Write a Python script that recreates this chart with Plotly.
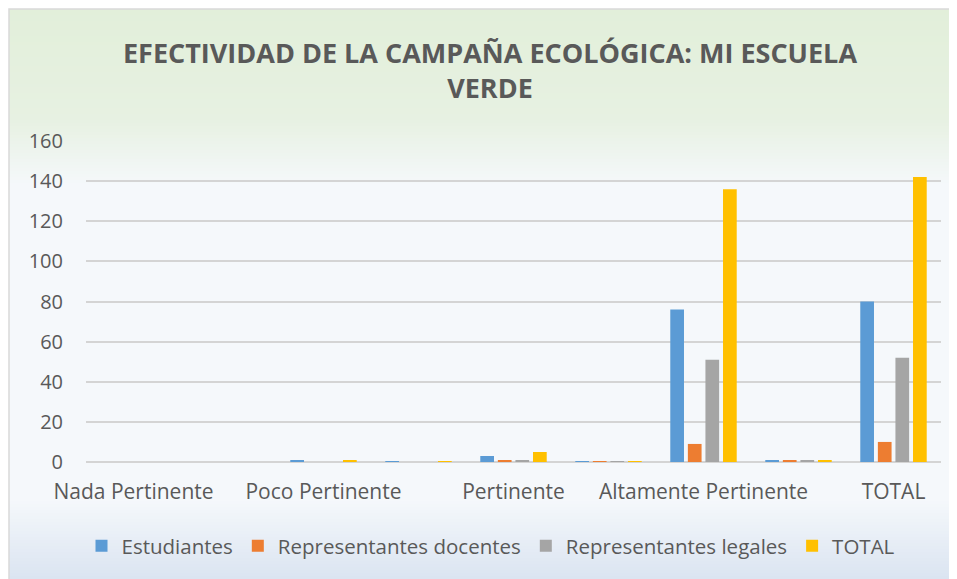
import plotly.graph_objects as go

# ---------------- data ----------------
category_labels = ["Nada Pertinente", "", "Poco Pertinente", "", "Pertinente", "",
                   "Altamente Pertinente", "", "TOTAL"]
estudiantes = [0, 0, 1, 0.0125, 3, 0.0375, 76, 0.95, 80]
docentes = [0, 0, 0, 0, 1, 0.1, 9, 0.9, 10]
legales = [0, 0, 0, 0, 1, 0.019, 51, 0.98, 52]
total = [0, 0, 1, 0.007, 5, 0.035, 136, 0.96, 142]
series_names = ["Estudiantes", "Representantes docentes", "Representantes legales", "TOTAL"]
y_ticks = [0, 20, 40, 60, 80, 100, 120, 140, 160]

# ---------------- style ----------------
colors = ["#5B9BD5", "#ED7D31", "#A5A5A5", "#FFC000"]
W, H = 957, 579
L, R, T, B = 78, 24, 133, 125
plot_w = W - L - R
plot_h = H - T - B
txt = "#595959"
font = "Open Sans"

x_idx = list(range(len(category_labels)))
fig = go.Figure()
for name, vals, c in zip(series_names, [estudiantes, docentes, legales, total], colors):
    fig.add_trace(go.Bar(x=x_idx, y=vals, name=name, marker=dict(color=c, line=dict(width=0))))


def px_to_paper_x(px):
    return (px - L) / plot_w


def px_to_paper_y(py):
    return (H - B - py) / plot_h


# gradient background (banded), in figure pixel coords
stops = [(1, (226, 239, 218)), (112, (231, 241, 226)), (177, (245, 248, 251)),
         (492, (245, 248, 251)), (571, (218, 228, 241))]


def col_at(py):
    for (y0, c0), (y1, c1) in zip(stops[:-1], stops[1:]):
        if y0 <= py <= y1:
            t = (py - y0) / (y1 - y0)
            return tuple(round(a + (b - a) * t) for a, b in zip(c0, c1))
    return stops[-1][1]


shapes = []
step = 3
py = 1
while py < H:
    py2 = min(py + step, H)
    c = col_at((py + py2) / 2)
    shapes.append(dict(type="rect", xref="paper", yref="paper", layer="below",
                       x0=px_to_paper_x(1), x1=px_to_paper_x(W + 2),
                       y0=px_to_paper_y(py2 + 0.5), y1=px_to_paper_y(py),
                       fillcolor="rgb(%d,%d,%d)" % c, line=dict(width=0)))
    py = py2
shapes.append(dict(type="rect", xref="paper", yref="paper", layer="below",
                   x0=px_to_paper_x(1), x1=px_to_paper_x(W + 2),
                   y0=px_to_paper_y(H + 2), y1=px_to_paper_y(1),
                   fillcolor="rgba(0,0,0,0)", line=dict(color="#D9D9D9", width=1.5)))

fig.update_layout(
    width=W, height=H,
    margin=dict(l=L, r=R, t=T, b=B),
    paper_bgcolor="white", plot_bgcolor="rgba(0,0,0,0)",
    barmode="group", bargap=0.26, bargroupgap=0.22,
    title=dict(text="EFECTIVIDAD DE LA CAMPAÑA ECOLÓGICA: MI ESCUELA<br>VERDE",
               x=482 / W, xref="container", xanchor="center", y=1 - 55 / H, yanchor="middle",
               font=dict(family=font, size=27, color=txt, weight="bold")),
    font=dict(family=font, size=20, color=txt),
    xaxis=dict(range=[-0.5, len(category_labels) - 0.5], tickvals=x_idx, ticktext=category_labels,
               showgrid=False, zeroline=False, showline=False, ticks="",
               tickfont=dict(size=21, color=txt), ticklabelstandoff=15),
    yaxis=dict(range=[0, 160], tickvals=y_ticks, showgrid=True, gridcolor="#D4D4D4", gridwidth=1.5,
               zeroline=True, zerolinecolor="#D4D4D4", zerolinewidth=1.8, showline=False,
               ticks="", tickfont=dict(size=20, color=txt), ticklabelstandoff=22),
    legend=dict(orientation="h", x=px_to_paper_x(483), xanchor="center",
                y=px_to_paper_y(538), yanchor="middle", font=dict(size=20.5, color=txt),
                bgcolor="rgba(0,0,0,0)", itemwidth=30),
    shapes=shapes,
    showlegend=True,
)

fig.write_html("out.html")
